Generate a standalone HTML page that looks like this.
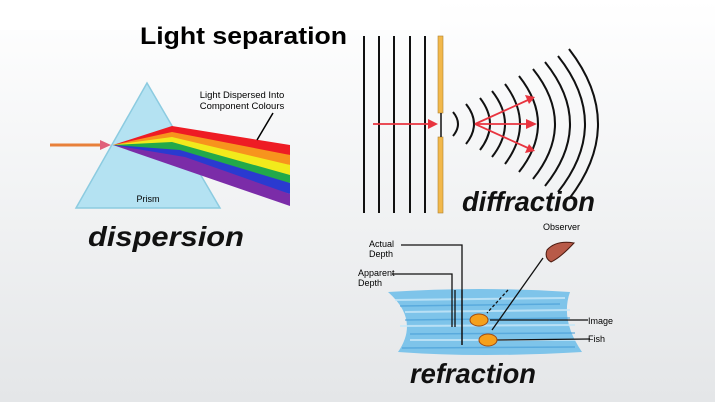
<!DOCTYPE html><html><head><style>
body{margin:0;width:715px;height:402px;overflow:hidden;background:linear-gradient(180deg,#ffffff 0%,#f4f5f6 40%,#e4e6e8 100%);font-family:"Liberation Sans",sans-serif;}
</style></head><body>
<svg width="715" height="402" viewBox="0 0 715 402" xmlns="http://www.w3.org/2000/svg" style="position:absolute;left:0;top:0">
<rect x="0" y="0" width="440" height="30" fill="#fff"/>
<text x="140" y="44" font-size="24" font-weight="bold" fill="#000" textLength="207" lengthAdjust="spacingAndGlyphs">Light separation</text>
<!-- prism -->
<polygon points="147,83 76,208 220,208" fill="#b4e2f2" stroke="#8ccbe0" stroke-width="1.5"/>
<line x1="50" y1="145" x2="102" y2="145" stroke="#e8803a" stroke-width="3"/>
<polygon points="100,140 111,145 100,150" fill="#e0607a"/>
<polygon points="113,145 172,126 290,145 290,155" fill="#ee1c24"/>
<polygon points="113,145 172,132 290,155 290,165" fill="#f7941d"/>
<polygon points="113,145 172,137 290,165 290,175" fill="#f2ea1c"/>
<polygon points="113,145 172,142 290,175 290,183" fill="#22a94a"/>
<polygon points="113,145 180,150 290,183 290,194" fill="#2a3ad0"/>
<polygon points="113,145 185,157 290,194 290,206" fill="#7b2ca8"/>
<line x1="257" y1="140" x2="273" y2="113" stroke="#000" stroke-width="1.5"/>
<text x="242" y="98" font-size="9.5" text-anchor="middle">Light Dispersed Into</text>
<text x="242" y="109" font-size="9.5" text-anchor="middle">Component Colours</text>
<text x="148" y="202" font-size="9" text-anchor="middle">Prism</text>
<text x="88" y="246" font-size="28" font-weight="bold" font-style="italic" fill="#111" textLength="156" lengthAdjust="spacingAndGlyphs">dispersion</text>
<!-- diffraction -->
<g stroke="#111" stroke-width="2">
<line x1="364" y1="36" x2="364" y2="213"/><line x1="379" y1="36" x2="379" y2="213"/><line x1="394" y1="36" x2="394" y2="213"/><line x1="410" y1="36" x2="410" y2="213"/><line x1="425" y1="36" x2="425" y2="213"/>
</g>
<rect x="438" y="36" width="5" height="77" fill="#f2b84b" stroke="#b08030" stroke-width="0.6"/>
<rect x="438" y="137" width="5" height="76" fill="#f2b84b" stroke="#b08030" stroke-width="0.6"/>
<line x1="441" y1="113" x2="441" y2="137" stroke="#111" stroke-width="1.5"/>
<g fill="none" stroke="#111" stroke-width="2">
<path d="M453,112 Q463,124 453,136"/>
<path d="M466,104 Q482,124 466,144"/>
<path d="M480,98 Q500,124 480,150"/>
<path d="M492,91 Q518,124 492,157"/>
<path d="M505,84 Q535,124 505,164"/>
<path d="M519,76 Q557,124 519,172"/>
<path d="M533,69 Q577,124 533,179"/>
<path d="M545,62 Q595,124 545,186"/>
<path d="M558,56 Q612,124 558,192"/>
<path d="M569,49 Q627,124 569,199"/>
</g>
<g stroke="#e8343f" stroke-width="1.8"><line x1="373" y1="124" x2="430" y2="124"/><line x1="475" y1="124" x2="528" y2="100"/><line x1="475" y1="124" x2="528" y2="124"/><line x1="475" y1="124" x2="528" y2="148"/></g>
<g fill="#e8343f"><polygon points="525,95 535,97 529,104"/><polygon points="526,119 537,124 526,129"/><polygon points="529,144 535,151 525,153"/><polygon points="428,119 438,124 428,129"/></g>
<text x="462" y="211" font-size="28" font-weight="bold" font-style="italic" fill="#111" textLength="133" lengthAdjust="spacingAndGlyphs">diffraction</text>
<!-- refraction -->
<path d="M388,292 Q480,286 570,292 Q560,320 582,352 Q480,358 398,352 Q420,320 388,292 Z" fill="#7ec4ea"/>
<g stroke="#c8e8f8" stroke-width="2" opacity="0.8"><line x1="395" y1="300" x2="565" y2="298"/><line x1="405" y1="312" x2="570" y2="310"/><line x1="400" y1="326" x2="575" y2="325"/><line x1="410" y1="340" x2="575" y2="340"/></g>
<g stroke="#4aa0d8" stroke-width="1.5" opacity="0.7"><line x1="400" y1="306" x2="560" y2="304"/><line x1="405" y1="320" x2="570" y2="318"/><line x1="410" y1="334" x2="575" y2="333"/><line x1="402" y1="348" x2="575" y2="347"/></g>
<g stroke="#111" stroke-width="1.3" fill="none">
<polyline points="401,245 462,245 462,345"/>
<polyline points="392,274 452,274 452,327"/>
<line x1="455" y1="290" x2="455" y2="327"/><line x1="462" y1="290" x2="462" y2="345"/>
<line x1="543" y1="258" x2="492" y2="330"/>
<line x1="508" y1="290" x2="487" y2="313" stroke-dasharray="3,2"/>
<line x1="490" y1="320" x2="588" y2="320"/><line x1="496" y1="340" x2="590" y2="339"/>
</g>
<path d="M547,250 Q556,240 574,243 Q560,258 551,262 Q544,258 547,250Z" fill="#b85a48" stroke="#4a1a10"/>
<ellipse cx="479" cy="320" rx="9" ry="6" fill="#f5a01c" stroke="#a04a10"/>
<ellipse cx="488" cy="340" rx="9" ry="6" fill="#f5a01c" stroke="#a04a10"/>
<g font-size="9"><text x="369" y="247">Actual</text><text x="369" y="257">Depth</text><text x="358" y="276">Apparent</text><text x="358" y="286">Depth</text><text x="543" y="230">Observer</text><text x="588" y="324">Image</text><text x="588" y="342">Fish</text></g>
<text x="410" y="383" font-size="28" font-weight="bold" font-style="italic" fill="#111" textLength="126" lengthAdjust="spacingAndGlyphs">refraction</text>
</svg>
</body></html>
